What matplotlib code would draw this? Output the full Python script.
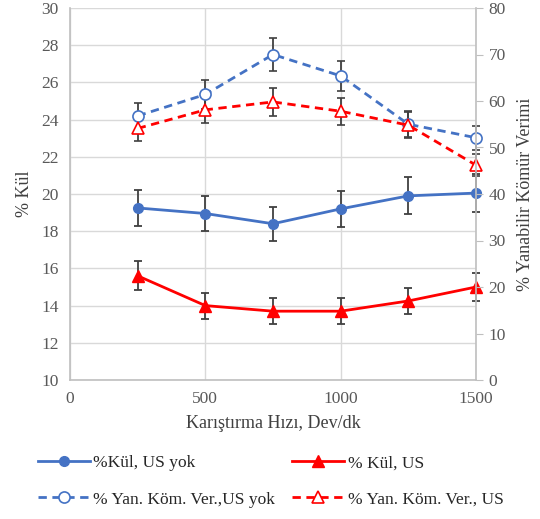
import matplotlib.pyplot as plt
import numpy as np

plt.rcParams['font.family'] = ['Liberation Serif', 'DejaVu Serif']

hiz = [250, 500, 750, 1000, 1250, 1500]
kul_us_yok = [19.25, 18.95, 18.4, 19.2, 19.9, 20.05]
kul_us = [15.6, 14.0, 13.7, 13.7, 14.25, 15.0]
verim_us_yok = [56.8, 61.4, 70.0, 65.4, 55.0, 52.1]
verim_us = [54.1, 58.1, 59.8, 57.8, 54.8, 46.2]

blue = '#4472C4'
red = '#FF0000'
grey = '#595959'
errc = '#404040'

fig = plt.figure(figsize=(5.4, 5.19), dpi=100)
ax1 = fig.add_axes([70/540, 1 - 380/519, 406/540, 372/519])
ax2 = ax1.twinx()

eb = dict(ecolor=errc, elinewidth=1.3, capsize=3, capthick=1.3)

err = lambda v: np.array(v) * 0.05

l1 = ax1.errorbar(hiz, kul_us_yok, yerr=err(kul_us_yok), color=blue, lw=2,
                  marker='o', ms=7, label='%Kül, US yok', **eb)
l2 = ax1.errorbar(hiz, kul_us, yerr=err(kul_us), color=red, lw=2,
                  marker='^', ms=8, label='% Kül, US', **eb)
l3 = ax2.errorbar(hiz, verim_us_yok, yerr=err(verim_us_yok), color=blue, lw=2,
                  ls=(0, (3, 2)), marker='o', ms=8, mfc='white', mec=blue,
                  mew=1.2, label='% Yan. Köm. Ver.,US yok', **eb)
l4 = ax2.errorbar(hiz, verim_us, yerr=err(verim_us), color=red, lw=2,
                  ls=(0, (3, 2)), marker='^', ms=8, mfc='white', mec=red,
                  mew=1.2, label='% Yan. Köm. Ver., US', **eb)

for c in (l1, l2, l3, l4):
    for art in c.get_children():
        art.set_clip_on(False)

ax1.set_xlim(0, 1500)
ax1.set_ylim(10, 30)
ax1.set_yticks(np.arange(10, 31, 2))
ax1.set_xticks([0, 500, 1000, 1500])
ax2.set_ylim(0, 80)
ax2.set_yticks(np.arange(0, 81, 10))

ax1.grid(True, color='#D9D9D9', lw=1)
ax1.set_axisbelow(True)

for ax in (ax1, ax2):
    for s in ax.spines.values():
        s.set_visible(False)
ax1.spines['left'].set_visible(True)
ax1.spines['bottom'].set_visible(True)
ax2.spines['right'].set_visible(True)
for s in ('left', 'bottom'):
    ax1.spines[s].set_color('#BFBFBF')
    ax1.spines[s].set_linewidth(1.2)
ax2.spines['right'].set_color('#BFBFBF')
ax2.spines['right'].set_linewidth(1.2)

ax1.tick_params(axis='both', length=0, labelsize=12.5, labelcolor=grey, pad=8)
ax2.tick_params(axis='y', length=5, color='#BFBFBF', labelsize=12.5,
                labelcolor=grey, pad=4)

ax1.set_ylabel('% Kül', fontsize=13, color=errc, labelpad=6)
ax2.set_ylabel('% Yanabilir Kömür Verimi', fontsize=13, color=errc, labelpad=8)
ax1.set_xlabel('Karıştırma Hızı, Dev/dk', fontsize=13, color=errc, labelpad=6)

handles = [l1, l3, l2, l4]
leg = fig.legend(handles=[h[0] for h in handles],
                 labels=[h.get_label() for h in handles],
                 loc='lower left', bbox_to_anchor=(22/540, -0.008), ncol=2,
                 frameon=False, fontsize=12.5, handlelength=3.0,
                 handletextpad=0.2, columnspacing=1.0, labelspacing=1.15)
for t in leg.get_texts():
    t.set_color('#262626')

fig.savefig('out.png', dpi=100)
